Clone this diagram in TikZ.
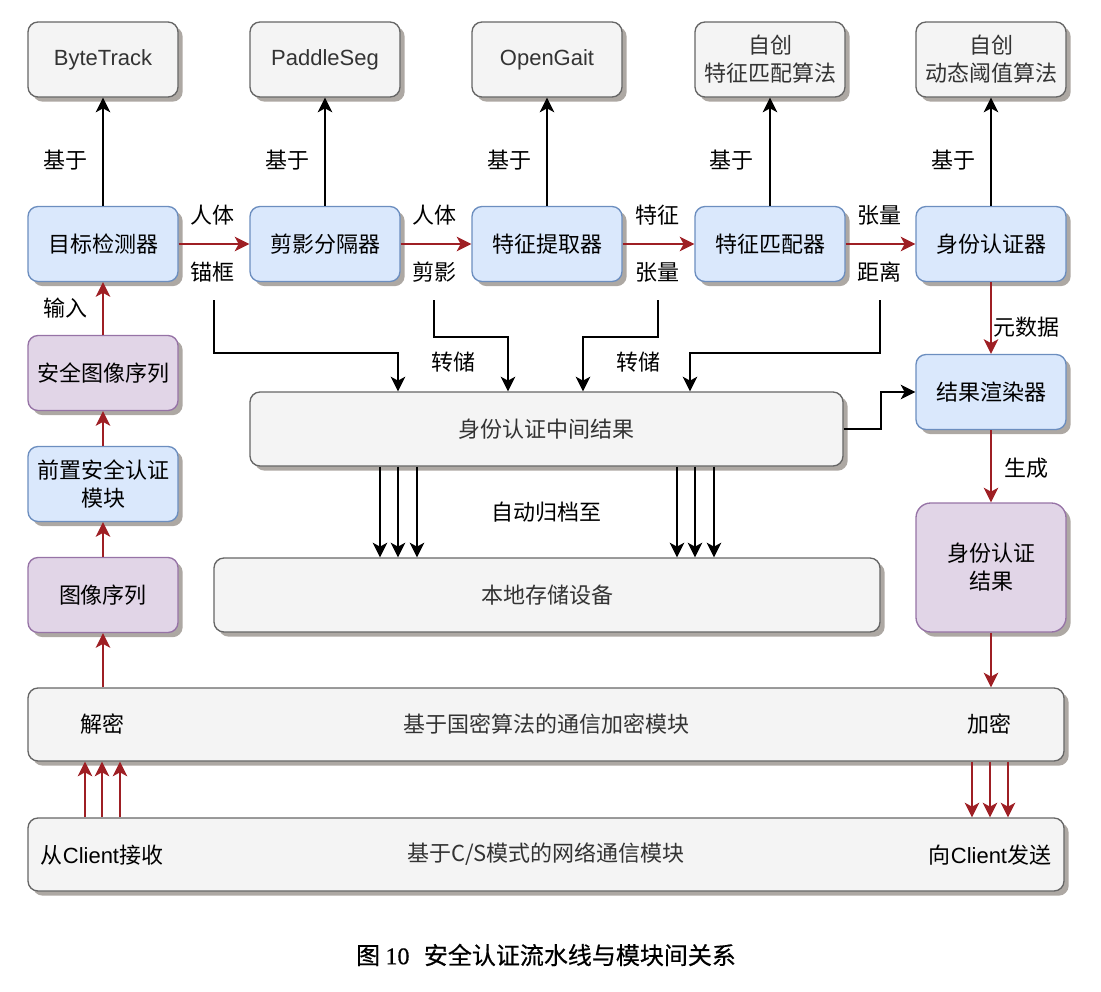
\documentclass[tikz,border=0pt]{standalone}
\usepackage{fontspec}
\setmainfont{Liberation Sans}
\newfontfamily\cjk{Noto Sans CJK SC}
\newfontfamily\cjkcap[FakeBold=0.6]{Noto Sans CJK SC}
\newfontfamily\serifnum[FakeBold=0.6]{Liberation Serif}
\usetikzlibrary{arrows.meta,shadows,calc}
\definecolor{grayfill}{HTML}{F4F4F4}
\definecolor{grayline}{HTML}{666666}
\definecolor{bluefill}{HTML}{DAE8FC}
\definecolor{blueline}{HTML}{6C8EBF}
\definecolor{purpfill}{HTML}{E1D5E7}
\definecolor{purpline}{HTML}{9673A6}
\definecolor{arrred}{HTML}{9E1F24}
\definecolor{shadowc}{HTML}{ADA8A3}
\definecolor{txtgray}{HTML}{333333}
\newcommand{\fsz}{\fontsize{16.5}{21}\selectfont}
\tikzset{
  box/.style={rounded corners=7.5pt, minimum width=112.5pt, minimum height=56.25pt, inner sep=2pt,
    align=center, font=\fsz\cjk, line width=1pt,
    drop shadow={shadow xshift=3.5pt,shadow yshift=-3.5pt,fill=shadowc,opacity=1}},
  gbox/.style={box, fill=grayfill, draw=grayline, text=txtgray},
  bbox/.style={box, fill=bluefill, draw=blueline, text=black},
  pbox/.style={box, fill=purpfill, draw=purpline, text=black},
  lbl/.style={font=\fsz\cjk, text=black, inner sep=0pt},
  arr/.style={-{Stealth[length=11pt,width=11pt,inset=3pt]}, line width=1.4pt, draw=black},
  redarr/.style={arr, draw=arrred},
}
\begin{document}
\begin{tikzpicture}[x=0.75pt,y=-0.75pt]
\useasboundingbox (0,0) rectangle (1101,992);
% row 1
\node[gbox,font=\fsz] (bt) at (103,59.5) {ByteTrack};
\node[gbox,font=\fsz] (ps) at (325,59.5) {PaddleSeg};
\node[gbox,font=\fsz] (og) at (547,59.5) {OpenGait};
\node[gbox] (fm) at (770,59.5) {自创\\特征匹配算法};
\node[gbox] (dt) at (991,59.5) {自创\\动态阈值算法};
% row 2
\node[bbox] (det) at (103,244) {目标检测器};
\node[bbox] (seg) at (325,244) {剪影分隔器};
\node[bbox] (ext) at (547,244) {特征提取器};
\node[bbox] (mat) at (770,244) {特征匹配器};
\node[bbox] (aut) at (991,244) {身份认证器};
% left column
\node[pbox] (sec) at (103,373) {安全图像序列};
\node[bbox] (pre) at (103,484) {前置安全认证\\模块};
\node[pbox] (img) at (103,595) {图像序列};
% right column
\node[bbox] (ren) at (991,392) {结果渲染器};
\node[pbox, minimum height=96.75pt, rounded corners=11pt] (res) at (991,567.5) {身份认证\\结果};
% wide boxes
\node[gbox, minimum width=444.75pt, minimum height=55.5pt] (mid) at (546.5,429) {身份认证中间结果};
\node[gbox, minimum width=499.5pt, minimum height=55.5pt] (sto) at (547,595) {本地存储设备};
\node[gbox, minimum width=777pt, minimum height=54.75pt] (enc) at (546,724.5) {基于国密算法的通信加密模块};
\node[gbox, minimum width=777pt, minimum height=54.75pt] (net) at (546,854.5) {基于C/S模式的网络通信模块};
\node[lbl] (dec) at (102,724) {解密};
\node[lbl] (enct) at (989,724) {加密};
\node[lbl] (recv) at (102,855) {从{\rmfamily Client}接收};
\node[lbl] (send) at (990,855) {向{\rmfamily Client}发送};
% up arrows (based on)
\foreach \a/\b in {det/bt,seg/ps,ext/og,mat/fm,aut/dt}
  \draw[arr] (\a.north) -- (\b.south);
\foreach \x in {65,287,509,731,953}
  \node[lbl] at (\x,160) {基于};
% horizontal pipeline
\draw[redarr] (det.east) -- (seg.west);
\draw[redarr] (seg.east) -- (ext.west);
\draw[redarr] (ext.east) -- (mat.west);
\draw[redarr] (mat.east) -- (aut.west);
\node[lbl] at (212,215) {人体};
\node[lbl] at (212,272) {锚框};
\node[lbl] at (434,215) {人体};
\node[lbl] at (434,272) {剪影};
\node[lbl] at (657,215) {特征};
\node[lbl] at (657,272) {张量};
\node[lbl] at (879,215) {张量};
\node[lbl] at (879,272) {距离};
% dumps
\coordinate (d1) at (214,300);
\coordinate (d2) at (434,300);
\coordinate (d3) at (658,300);
\coordinate (d4) at (880,300);
\draw[arr] (d1) -- ++(0,53) -| (398,0 |- mid.north);
\draw[arr] (d2) -- ++(0,37) -| (508,0 |- mid.north);
\draw[arr] (d3) -- ++(0,37) -| (583,0 |- mid.north);
\draw[arr] (d4) -- ++(0,53) -| (690,0 |- mid.north);
\node[lbl] at (453,362) {转储};
\node[lbl] at (638,362) {转储};
% mid -> renderer
\draw[arr] (mid.east) -- ++(37,0) |- (ren.west);
% auth -> renderer -> result
\draw[redarr] (aut.south) -- (ren.north);
\node[lbl] at (1026,327) {元数据};
\draw[redarr] (ren.south) -- (res.north);
\node[lbl] at (1026,468) {生成};
% archive
\foreach \x in {380,398,417,677,695,714}
  \draw[arr] (\x,0 |- mid.south) -- (\x,0 |- sto.north);
\node[lbl] at (546,512) {自动归档至};
% left chain
\draw[redarr] (img.north) -- (pre.south);
\draw[redarr] (pre.north) -- (sec.south);
\draw[redarr] (sec.north) -- (det.south);
\node[lbl] at (65,308) {输入};
\draw[redarr] (img.south |- enc.north) -- (img.south);
\draw[redarr] (res.south) -- (res.south |- enc.north);
% network <-> encryption
\foreach \x in {85,102,120}
  \draw[redarr] (\x,0 |- net.north) -- (\x,0 |- enc.south);
\foreach \x in {972,990,1008}
  \draw[redarr] (\x,0 |- enc.south) -- (\x,0 |- net.north);
% caption
\node[inner sep=0pt, font=\fontsize{18}{21}\selectfont\cjkcap] (cap) at (546,955) {图 {\serifnum 10}\hspace{0.6em}安全认证流水线与模块间关系};
\end{tikzpicture}
\end{document}
